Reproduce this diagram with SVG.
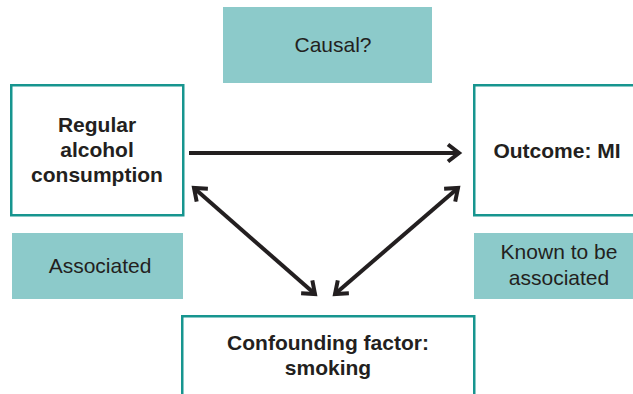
<svg xmlns="http://www.w3.org/2000/svg" width="633" height="394" viewBox="0 0 633 394">
  <defs>
    <marker id="head" viewBox="-16 -12 20 24" refX="0" refY="0" markerWidth="20" markerHeight="24" markerUnits="userSpaceOnUse" orient="auto-start-reverse">
      <path d="M-11,-8.5 L0,0 L-11,8.5" fill="none" stroke="#231f20" stroke-width="4" stroke-linejoin="miter" stroke-linecap="butt"/>
    </marker>
    <style>
      .node { fill: #ffffff; stroke: #17958f; stroke-width: 2.5; }
      .label { fill: #8ccaca; stroke: none; }
      .bold { font-family: "Liberation Sans", Arial, sans-serif; font-weight: bold; font-size: 21px; fill: #231f20; text-anchor: middle; }
      .plain { font-family: "Liberation Sans", Arial, sans-serif; font-size: 21px; fill: #231f20; text-anchor: middle; }
      .link { fill: none; stroke: #231f20; stroke-width: 4; }
    </style>
  </defs>
  <rect width="633" height="394" fill="#ffffff"/>

  <g id="causal-label">
    <rect class="label" x="223" y="7" width="209" height="76"/>
    <text class="plain" x="333" y="52">Causal?</text>
  </g>

  <g id="alcohol">
    <rect class="node" x="11.25" y="85.25" width="172" height="130"/>
    <text class="bold" x="97" y="132">Regular</text>
    <text class="bold" x="97" y="157">alcohol</text>
    <text class="bold" x="97" y="182">consumption</text>
  </g>

  <g id="outcome">
    <rect class="node" x="474.25" y="85.25" width="170" height="130"/>
    <text class="bold" x="557" y="158">Outcome: MI</text>
  </g>

  <g id="associated-label">
    <rect class="label" x="12" y="233" width="171" height="66"/>
    <text class="plain" x="100" y="273">Associated</text>
  </g>

  <g id="known-label">
    <rect class="label" x="474" y="233" width="159" height="66"/>
    <text class="plain" x="559" y="259">Known to be</text>
    <text class="plain" x="559" y="285">associated</text>
  </g>

  <g id="smoking">
    <rect class="node" x="182.25" y="316.25" width="292" height="100"/>
    <text class="bold" x="328" y="350">Confounding factor:</text>
    <text class="bold" x="328" y="375">smoking</text>
  </g>

  <g id="connectors">
    <line class="link" x1="189" y1="153" x2="459" y2="153" marker-end="url(#head)"/>
    <line class="link" x1="194" y1="188" x2="315" y2="294" marker-start="url(#head)" marker-end="url(#head)"/>
    <line class="link" x1="458" y1="188" x2="335" y2="294" marker-start="url(#head)" marker-end="url(#head)"/>
  </g>
</svg>
